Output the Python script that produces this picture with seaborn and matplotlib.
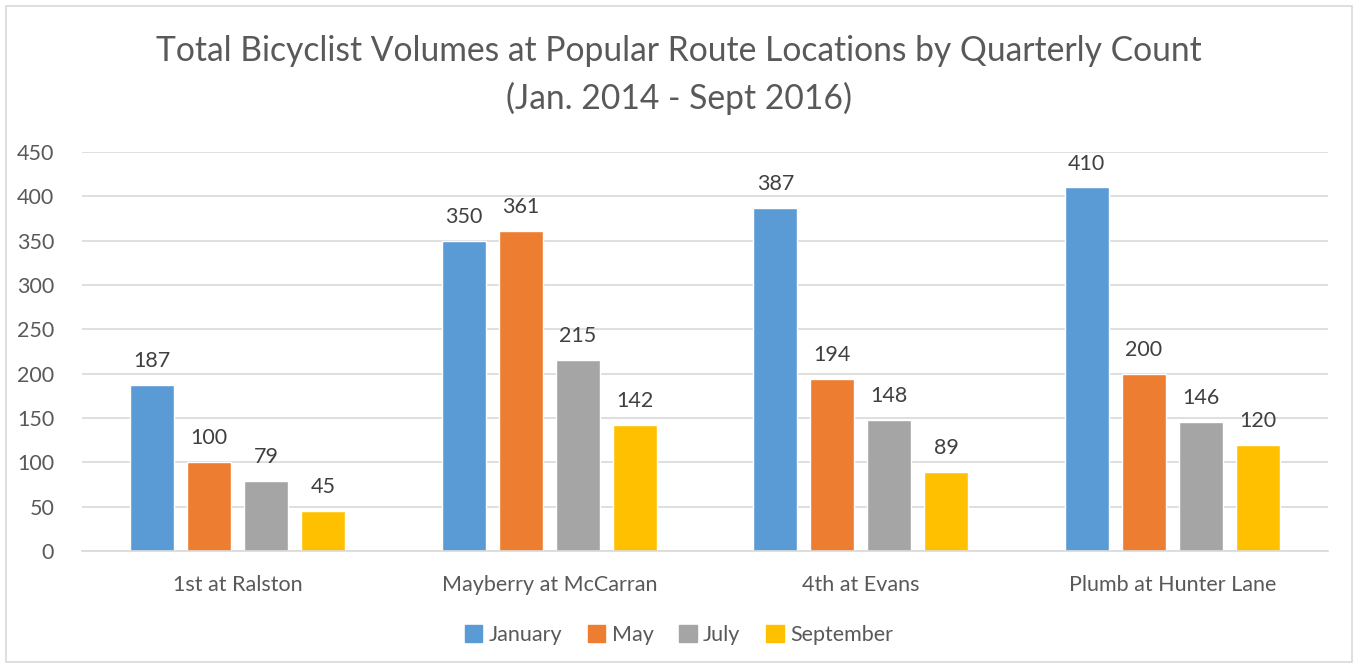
import matplotlib
matplotlib.use("Agg")
import matplotlib.pyplot as plt
import matplotlib.patches as mpatches
import seaborn as sns
import pandas as pd

locations = ["1st at Ralston", "Mayberry at McCarran", "4th at Evans", "Plumb at Hunter Lane"]
months = ["January", "May", "July", "September"]
january = [187, 350, 387, 410]
may = [100, 361, 194, 200]
july = [79, 215, 148, 146]
september = [45, 142, 89, 120]
colors = ["#5B9BD5", "#ED7D31", "#A5A5A5", "#FFC000"]

rows = []
for m, vals in zip(months, [january, may, july, september]):
    for loc, v in zip(locations, vals):
        rows.append({"Location": loc, "Month": m, "Count": v})
df = pd.DataFrame(rows)

sns.set_theme(style="white")
plt.rcParams['font.family'] = ['Lato', 'DejaVu Sans']
txt = "#595959"

fig = plt.figure(figsize=(13.58, 6.65), dpi=100)
ax = fig.add_axes([0.0604, 0.1714, 0.9176, 0.6000])

sns.barplot(data=df, x="Location", y="Count", hue="Month", order=locations,
            hue_order=months, palette=colors, width=0.732, gap=0.23,
            saturation=1, ax=ax, legend=False, errorbar=None)

ax.set_ylim(0, 450)
ax.set_yticks(range(0, 451, 50))
ax.yaxis.grid(True, color="#D9D9D9", linewidth=1.2)
ax.set_axisbelow(True)
for s in ["top", "right", "left"]:
    ax.spines[s].set_visible(False)
ax.spines["bottom"].set_color("#D9D9D9")
ax.spines["bottom"].set_linewidth(1.2)
ax.tick_params(axis="both", length=0, labelsize=15.5, colors=txt)
ax.tick_params(axis="x", pad=17)
ax.tick_params(axis="y", pad=20)
ax.set_xlabel("")
ax.set_ylabel("")

for c in ax.containers:
    ax.bar_label(c, fmt="%d", padding=10, fontsize=15.5, color="#404040")

fig.text(0.5, 0.924, "Total Bicyclist Volumes at Popular Route Locations by Quarterly Count",
         ha="center", va="center", fontsize=24.2, color=txt)
fig.text(0.5, 0.852, "(Jan. 2014 - Sept 2016)", ha="center", va="center",
         fontsize=24.2, color=txt)

handles = [mpatches.Patch(color=c, label=m) for c, m in zip(colors, months)]
fig.legend(handles=handles, loc="center", bbox_to_anchor=(0.5, 0.045), ncol=4,
           frameon=False, fontsize=15.5, handlelength=0.8, handleheight=0.8,
           handletextpad=0.3, columnspacing=1.2, labelcolor=txt)

border = mpatches.Rectangle((0.0045, 0.004), 0.991, 0.987, transform=fig.transFigure,
                            fill=False, edgecolor="#D9D9D9", linewidth=1.2)
fig.patches.append(border)

fig.savefig("out.png", dpi=100)
